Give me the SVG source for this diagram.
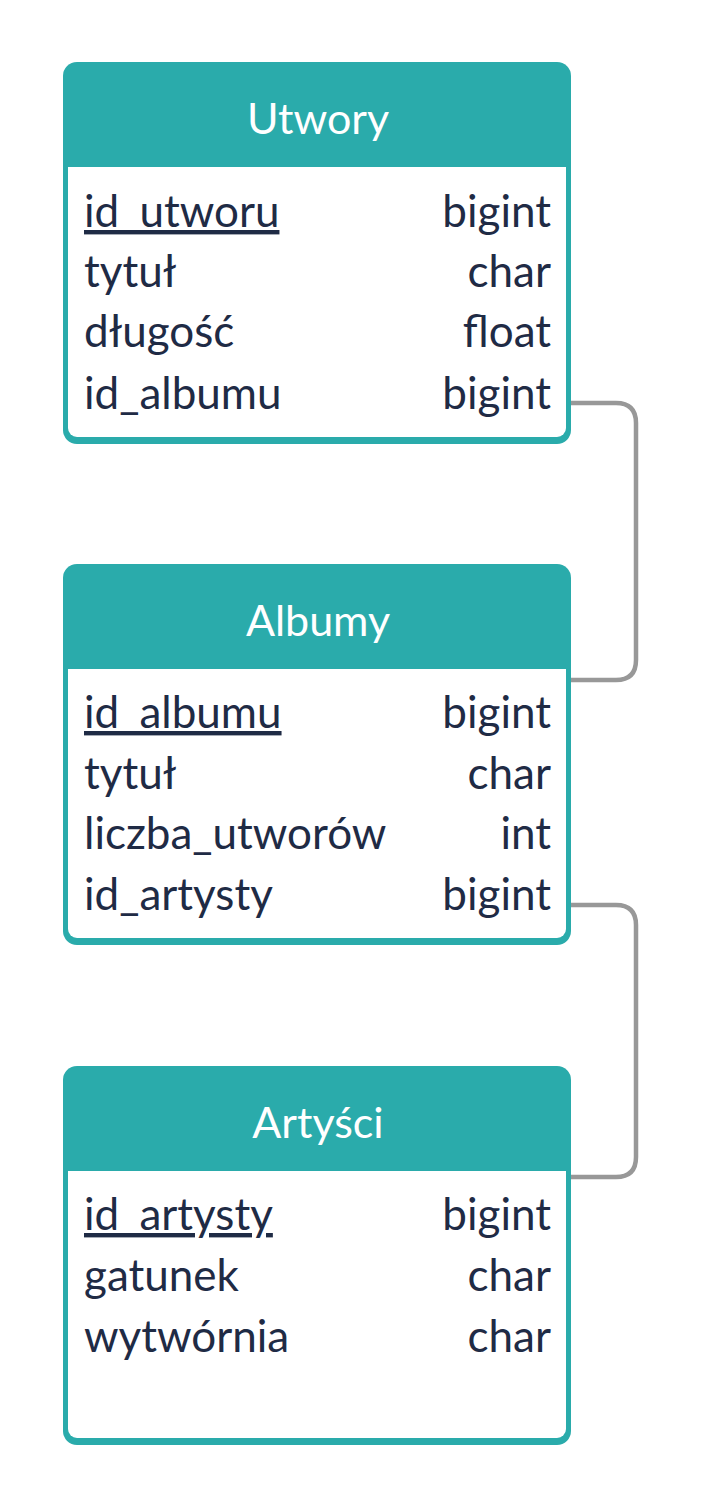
<svg xmlns="http://www.w3.org/2000/svg" width="704" height="1508" viewBox="0 0 704 1508">
<style>
.frame{fill:#2aabab}
.body{fill:#ffffff}
.hdr{font-family:Lato,"Liberation Sans",sans-serif;font-size:43px;fill:#ffffff;text-anchor:middle}
.f{font-family:Lato,"Liberation Sans",sans-serif;font-size:44px;fill:#1f2b45}
.t{font-family:Lato,"Liberation Sans",sans-serif;font-size:44px;fill:#1f2b45;text-anchor:end}
.pk{text-decoration:underline}
.conn{fill:none;stroke:#989898;stroke-width:4.5}
</style>
<rect width="704" height="1508" fill="#ffffff"/>
<g id="connectors">
<path class="conn" d="M567,403 H616 Q636,403 636,423 V660 Q636,680 616,680 H567"/>
<path class="conn" d="M567,905 H616 Q636,905 636,925 V1157 Q636,1177 616,1177 H567"/>
</g>
<g id="utwory">
<rect class="frame" x="63" y="62" width="508" height="382" rx="14"/>
<rect class="body" x="68" y="167" width="498" height="270" rx="9"/>
<rect class="body" x="68" y="167" width="498" height="20"/>
<text class="hdr" x="318" y="134">Utwory</text>
<text class="f pk" x="84" y="227">id_utworu</text><text class="t" x="551" y="227">bigint</text>
<text class="f" x="84" y="287">tytuł</text><text class="t" x="551" y="287">char</text>
<text class="f" x="84" y="347">długość</text><text class="t" x="551" y="347">float</text>
<text class="f" x="84" y="409">id_albumu</text><text class="t" x="551" y="409">bigint</text>
</g>
<g id="albumy">
<rect class="frame" x="63" y="564" width="508" height="381" rx="14"/>
<rect class="body" x="68" y="669" width="498" height="269" rx="9"/>
<rect class="body" x="68" y="669" width="498" height="20"/>
<text class="hdr" x="318" y="636">Albumy</text>
<text class="f pk" x="84" y="728">id_albumu</text><text class="t" x="551" y="728">bigint</text>
<text class="f" x="84" y="789">tytuł</text><text class="t" x="551" y="789">char</text>
<text class="f" x="84" y="849">liczba_utworów</text><text class="t" x="551" y="849">int</text>
<text class="f" x="84" y="910">id_artysty</text><text class="t" x="551" y="910">bigint</text>
</g>
<g id="artysci">
<rect class="frame" x="63" y="1066" width="508" height="379" rx="14"/>
<rect class="body" x="68" y="1171" width="498" height="267" rx="9"/>
<rect class="body" x="68" y="1171" width="498" height="20"/>
<text class="hdr" x="318" y="1138">Artyści</text>
<text class="f pk" x="84" y="1230">id_artysty</text><text class="t" x="551" y="1230">bigint</text>
<text class="f" x="84" y="1291">gatunek</text><text class="t" x="551" y="1291">char</text>
<text class="f" x="84" y="1352">wytwórnia</text><text class="t" x="551" y="1352">char</text>
</g>
</svg>
